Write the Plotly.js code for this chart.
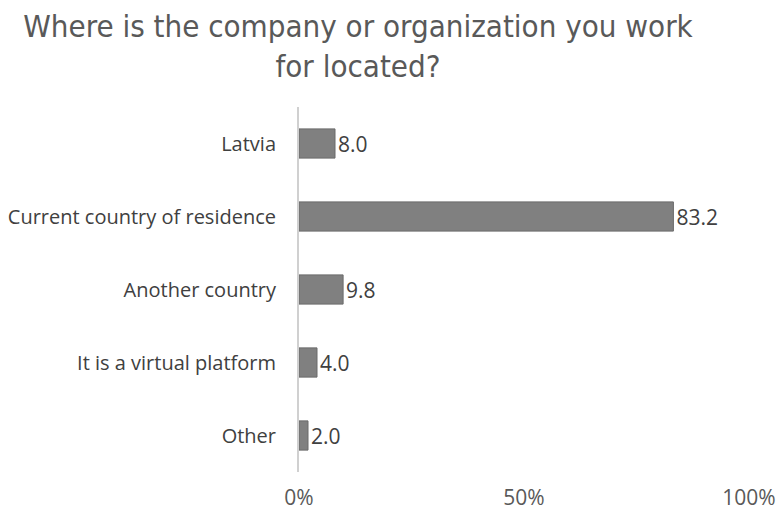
<!DOCTYPE html>
<html>
<head>
<meta charset="utf-8">
<script src="https://cdn.plot.ly/plotly-3.0.1.min.js"></script>
<style>html,body{margin:0;padding:0;background:#fff;}#chart{width:780px;height:514px;}</style>
</head>
<body>
<div id="chart"></div>
<script>
const categories = ["Latvia", "Current country of residence", "Another country", "It is a virtual platform", "Other"];
const values = [8.0, 83.2, 9.8, 4.0, 2.0];
const tickValues = [0, 50, 100];
const tickLabels = ["0%", "50%", "100%"];

const trace = {
  type: 'bar',
  orientation: 'h',
  y: categories,
  x: values,
  text: values.map(v => v.toFixed(1)),
  textposition: 'outside',
  cliponaxis: false,
  textfont: {family: '"Open Sans", sans-serif', size: 21, color: '#404040'},
  marker: {color: '#808080', line: {color: '#6a6a6a', width: 1}},
  hoverinfo: 'none'
};

const layout = {
  width: 780, height: 514,
  margin: {l: 299, r: 31, t: 107, b: 42},
  paper_bgcolor: '#ffffff', plot_bgcolor: '#ffffff',
  showlegend: false,
  bargap: 0.6,
  title: {
    text: 'Where is the company or organization you work<br>for located?',
    x: 358/780, xanchor: 'center', xref: 'container',
    y: 1 - 37/514, yanchor: 'middle', yref: 'container',
    font: {family: '"DejaVu Sans Condensed", "Roboto", sans-serif', size: 31, color: '#595959'}
  },
  xaxis: {
    range: [0, 100],
    tickvals: tickValues, ticktext: tickLabels,
    showgrid: false, zeroline: false, showline: false,
    ticks: '', ticklabelstandoff: 11,
    tickfont: {family: '"Open Sans", sans-serif', size: 21, color: '#595959'},
    fixedrange: true
  },
  yaxis: {
    autorange: 'reversed',
    showgrid: false, zeroline: false,
    showline: true, linecolor: '#d0d0d0', linewidth: 2,
    ticks: '', ticklabelstandoff: 17,
    tickfont: {family: '"Open Sans", sans-serif', size: 20, color: '#404040'},
    fixedrange: true
  }
};

Plotly.newPlot('chart', [trace], layout, {displayModeBar: false, staticPlot: true});
</script>
</body>
</html>
